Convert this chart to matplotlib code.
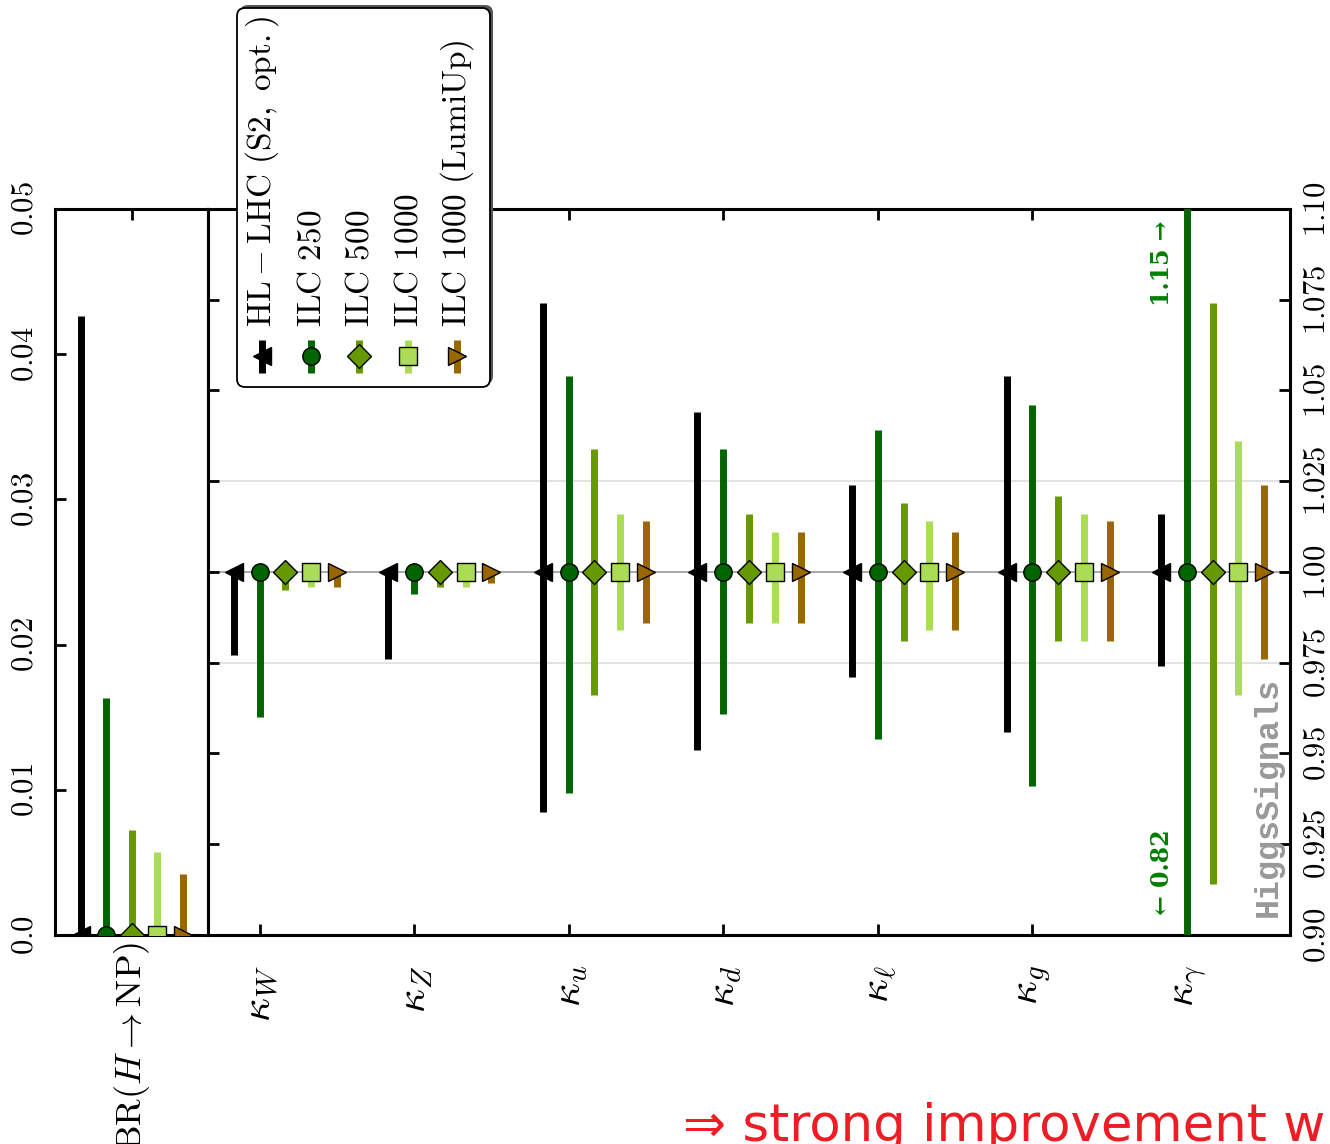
import numpy as np
import matplotlib
matplotlib.use('Agg')
import matplotlib.pyplot as plt
from matplotlib.patches import FancyBboxPatch

plt.rcParams['mathtext.fontset'] = 'cm'
plt.rcParams['font.family'] = ['DejaVu Sans']

# --- data ---
couplings = [r'$\kappa_W$', r'$\kappa_Z$', r'$\kappa_u$', r'$\kappa_d$',
             r'$\kappa_\ell$', r'$\kappa_g$', r'$\kappa_\gamma$']
scenarios = [r'$\mathrm{HL-LHC\ (S2,\ opt.)}$', r'$\mathrm{ILC\ 250}$',
             r'$\mathrm{ILC\ 500}$', r'$\mathrm{ILC\ 1000}$',
             r'$\mathrm{ILC\ 1000\ (LumiUp)}$']

kappa_central = 1.0
# lower / upper ends of the 1 sigma ranges
hl_lhc_lo = [0.977, 0.976, 0.934, 0.951, 0.971, 0.956, 0.974]
hl_lhc_hi = [1.000, 1.000, 1.074, 1.044, 1.024, 1.054, 1.016]
ilc250_lo = [0.960, 0.994, 0.939, 0.961, 0.954, 0.941, 0.820]
ilc250_hi = [1.000, 1.000, 1.054, 1.034, 1.039, 1.046, 1.150]
ilc500_lo = [0.995, 0.996, 0.966, 0.986, 0.981, 0.981, 0.914]
ilc500_hi = [1.000, 1.000, 1.034, 1.016, 1.019, 1.021, 1.074]
ilc1000_lo = [0.996, 0.996, 0.984, 0.986, 0.984, 0.981, 0.966]
ilc1000_hi = [1.000, 1.000, 1.016, 1.011, 1.014, 1.016, 1.036]
lumiup_lo = [0.996, 0.997, 0.986, 0.986, 0.984, 0.981, 0.976]
lumiup_hi = [1.000, 1.000, 1.014, 1.011, 1.011, 1.014, 1.024]

br_label = r'$\mathrm{BR}(H\rightarrow\mathrm{NP})$'
br_central = 0.0
br_upper = [0.0426, 0.0163, 0.0072, 0.0057, 0.0042]

lows = [hl_lhc_lo, ilc250_lo, ilc500_lo, ilc1000_lo, lumiup_lo]
highs = [hl_lhc_hi, ilc250_hi, ilc500_hi, ilc1000_hi, lumiup_hi]

main_ticks = [0.90, 0.925, 0.95, 0.975, 1.00, 1.025, 1.05, 1.075, 1.10]
main_ticklabels = ['0.90', '0.925', '0.95', '0.975', '1.00', '1.025', '1.05', '1.075', '1.10']
br_ticks = [0.0, 0.01, 0.02, 0.03, 0.04, 0.05]
br_ticklabels = ['0.0', '0.01', '0.02', '0.03', '0.04', '0.05']

# --- styles ---
colors = ['#000000', '#006400', '#669900', '#aadd55', '#996600']
markers = ['<', 'o', 'D', 's', '>']
offsets = [1/6, 2/6, 3/6, 4/6, 5/6]
MS = 12.5
ELW = 5.0

W, H = 1330, 1144
fig = plt.figure(figsize=(W / 100, H / 100), dpi=100)


def rect(x0, y0, x1, y1):
    return [x0 / W, 1 - y1 / H, (x1 - x0) / W, (y1 - y0) / H]


def cm(s):
    return '$' + s + '$'


axL = fig.add_axes(rect(55, 209, 208, 935))
axM = fig.add_axes(rect(208, 209, 1290, 935))

for ax in (axL, axM):
    for sp in ax.spines.values():
        sp.set_linewidth(2.2)
    ax.tick_params(direction='in', length=8, width=2, top=True)

# main panel
axM.axhline(kappa_central, color='#999999', lw=1.2, zorder=1)
for g in (0.975, 1.025):
    axM.axhline(g, color='#dddddd', lw=1.2, zorder=0)

xpos = np.arange(len(couplings))
for k in range(5):
    lo = kappa_central - np.array(lows[k])
    hi = np.array(highs[k]) - kappa_central
    axM.errorbar(xpos + offsets[k], np.full(len(couplings), kappa_central),
                 yerr=[lo, hi], fmt=markers[k], color=colors[k], mfc=colors[k],
                 mec='black', mew=1.0, ms=MS, elinewidth=ELW, capsize=0, zorder=3)

axM.set_xlim(0, len(couplings))
axM.set_ylim(0.90, 1.10)
axM.set_xticks(xpos + 1/3)
axM.set_xticklabels(couplings, fontsize=30, rotation=90, va='top', ha='center')
axM.tick_params(axis='x', pad=22)
axM.set_yticks(main_ticks)
axM.set_yticklabels([cm(t) for t in main_ticklabels], fontsize=22, rotation=90, va='center')
axM.tick_params(axis='y', left=True, right=True, labelleft=False, labelright=True, pad=8)

axM.text(6.172, 1.0967, '1.15 \u2192', family='DejaVu Serif', weight='bold',
         color='#007f00', fontsize=17, rotation=90, ha='center', va='top')
axM.text(6.172, 0.9055, '\u2190 0.82', family='DejaVu Serif', weight='bold',
         color='#007f00', fontsize=17, rotation=90, ha='center', va='bottom')
axM.text(6.86, 0.905, 'HiggsSignals', family='Liberation Mono', weight='bold',
         color='#999999', fontsize=24, rotation=90, ha='center', va='bottom')

# BR panel
for k in range(5):
    axL.errorbar([offsets[k]], [br_central], yerr=[[0], [br_upper[k]]],
                 fmt=markers[k], color=colors[k], mfc=colors[k], mec='black',
                 mew=1.0, ms=MS, elinewidth=ELW, capsize=0, zorder=3)
axL.set_xlim(0, 1)
axL.set_ylim(0, 0.05)
axL.set_xticks([0.5])
axL.set_xticklabels([br_label], fontsize=26, rotation=90, va='top', ha='center')
axL.tick_params(axis='x', pad=5)
axL.set_yticks(br_ticks)
axL.set_yticklabels([cm(t) for t in br_ticklabels], fontsize=22, rotation=90, va='center')
axL.tick_params(axis='y', left=True, right=False, pad=12)

# legend drawn by hand (rotated layout)
lax = fig.add_axes(rect(225, 0, 505, 400), zorder=10)
lax.set_xlim(225, 505)
lax.set_ylim(400, 0)
lax.axis('off')
lax.add_patch(FancyBboxPatch((240, 5), 253, 379, boxstyle='round,pad=0,rounding_size=8',
                             fc='#555555', ec='none', zorder=1))
lax.add_patch(FancyBboxPatch((237, 8), 253, 379, boxstyle='round,pad=0,rounding_size=8',
                             fc='white', ec='black', lw=1.3, zorder=2))
leg_x = [262, 311, 359, 408, 457]
for k in range(5):
    lax.plot([leg_x[k], leg_x[k]], [340, 373], color=colors[k], lw=ELW,
             solid_capstyle='butt', zorder=3)
    lax.plot([leg_x[k]], [356.5], marker=markers[k], color=colors[k], mfc=colors[k],
             mec='black', mew=1.0, ms=MS, zorder=4)
    lax.text(leg_x[k], 327, scenarios[k], fontsize=24, rotation=90,
             ha='center', va='bottom', zorder=4)

fig.text(683 / W, 1 - 1141 / H, '\u21d2 strong improvement w', color='#ee1c24',
         fontsize=37, ha='left', va='baseline')

fig.savefig('out.png', dpi=100)
